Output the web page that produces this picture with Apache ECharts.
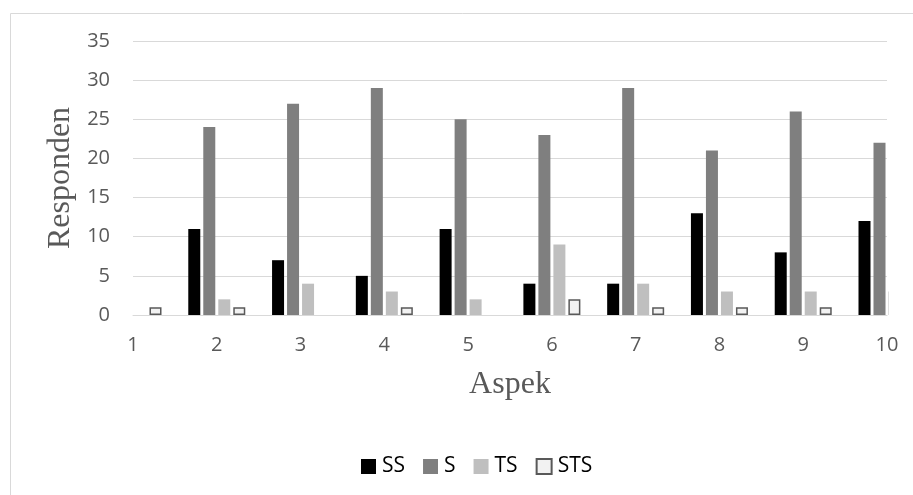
<!DOCTYPE html>
<html>
<head>
<meta charset="utf-8">
<script src="https://cdn.jsdelivr.net/npm/echarts@6/dist/echarts.min.js"></script>
<style>
html,body{margin:0;padding:0;background:#fff;}
#c{width:913px;height:495px;}
</style>
</head>
<body>
<div id="c"></div>
<script>
const categories = ['1','2','3','4','5','6','7','8','9','10'];
const seriesNames = ['SS','S','TS','STS'];
const valSS  = [0, 11, 7, 5, 11, 4, 4, 13, 8, 12];
const valS   = [0, 24, 27, 29, 25, 23, 29, 21, 26, 22];
const valTS  = [0, 2, 4, 3, 2, 9, 4, 3, 3, 3];
const valSTS = [1, 1, 0, 1, 0, 2, 1, 1, 1, 1];
const yTicks = [0, 5, 10, 15, 20, 25, 30, 35];

const chart = echarts.init(document.getElementById('c'), null, {renderer:'canvas'});
const labelFont = '"Open Sans", "Noto Sans", sans-serif';
const serif = '"Liberation Serif", "DejaVu Serif", serif';
function bar(name, data, color, border) {
  return {
    name: name, type: 'bar',
    data: data.map(v => v === 0 ? null : v),
    barWidth: 12, barGap: '25%', clip: true,
    itemStyle: border ? {color: color, borderColor: '#595959', borderWidth: 1.5} : {color: color}
  };
}
chart.setOption({
  animation: false,
  graphic: [
    {
      type: 'rect', left: 8, top: 11, z: 0,
      shape: {width: 920, height: 500},
      style: {fill: 'none', stroke: '#d9d9d9', lineWidth: 1}
    },
    {
      // plot-area clipping mask on the right edge
      type: 'rect', left: 889, top: 20, z: 100,
      shape: {width: 30, height: 298},
      style: {fill: '#ffffff'}
    }
  ],
  grid: {left: 133, right: 26, top: 41, bottom: 180},
  legend: {
    data: seriesNames, top: 451, left: 356,
    itemWidth: 15, itemHeight: 15, itemGap: 18, icon: 'rect',
    textStyle: {fontFamily: labelFont, fontSize: 21, color: '#000', padding: [0,0,0,1]}
  },
  xAxis: {
    type: 'category', data: categories, boundaryGap: false,
    name: 'Aspek', nameLocation: 'middle', nameGap: 54,
    nameTextStyle: {fontFamily: serif, fontSize: 32, color: '#595959'},
    axisLine: {lineStyle: {color: '#d9d9d9'}},
    axisTick: {show: false},
    axisLabel: {fontFamily: labelFont, fontSize: 20, color: '#595959', margin: 20},
    splitLine: {show: false}
  },
  yAxis: {
    type: 'value', min: yTicks[0], max: yTicks[yTicks.length-1], interval: 5,
    name: 'Responden', nameLocation: 'middle', nameGap: 55,
    nameTextStyle: {fontFamily: serif, fontSize: 32, color: '#595959'},
    axisLine: {show: false}, axisTick: {show: false},
    axisLabel: {fontFamily: labelFont, fontSize: 20, color: '#595959', margin: 23},
    splitLine: {lineStyle: {color: '#d9d9d9', width: 1}}
  },
  series: [
    bar('SS', valSS, '#000000'),
    bar('S', valS, '#7f7f7f'),
    bar('TS', valTS, '#bfbfbf'),
    bar('STS', valSTS, '#f2f2f2', true)
  ]
});
</script>
</body>
</html>
